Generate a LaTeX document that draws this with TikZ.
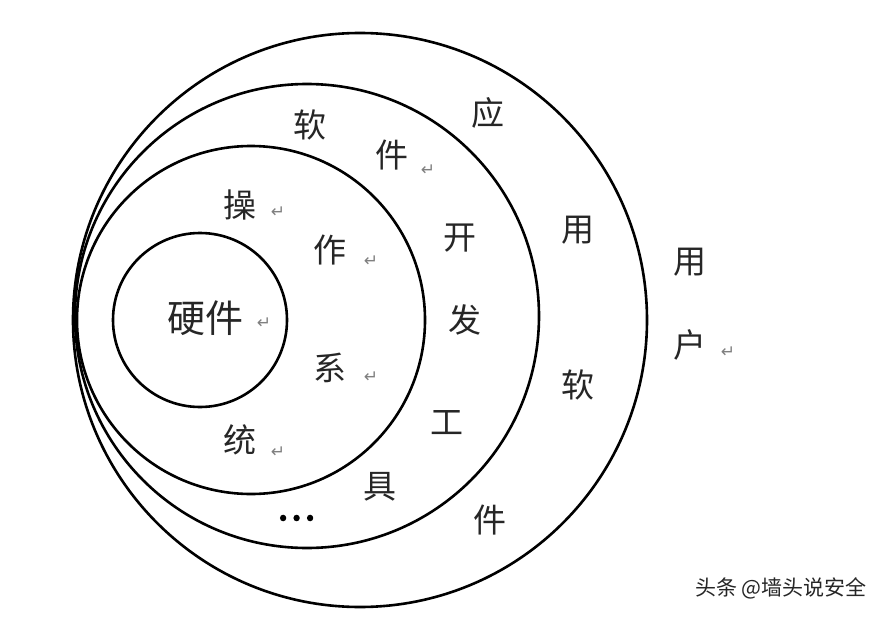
\documentclass[tikz,border=0pt]{standalone}
\usepackage{fontspec}
\newfontfamily\cjk{Noto Sans CJK SC}
\newfontfamily\cjkb[FakeBold=4]{Noto Sans CJK SC}
\newfontfamily\sym{DejaVu Sans}
\begin{document}
\begin{tikzpicture}[x=1pt,y=-1pt,
  ring/.style={draw=black,line width=2.6pt},
  ch/.style={inner sep=0pt,font=\cjk\fontsize{33}{33}\selectfont,text=black!85},
  mk/.style={inner sep=0pt,font=\sym\fontsize{17}{17}\selectfont,text=black!50},
  wm/.style={inner sep=0pt,font=\cjk\fontsize{21}{21}\selectfont,text=black!85}]
\useasboundingbox (0,0) rectangle (892,618);
\fill[white] (0,0) rectangle (892,618);
% rings
\draw[ring] (360,320) circle[radius=287] node[coordinate](cApp){};
\draw[ring] (307,316) circle[radius=232] node[coordinate](cDev){};
\draw[ring] (251,320) circle[radius=174] node[coordinate](cOS){};
\draw[ring] (200,320) circle[radius=87] node[coordinate](cHW){};
% hardware
\node[ch,font=\cjk\fontsize{38}{38}\selectfont] (hw) at (205,318) {硬件};
\node[mk] (hwm) at (264,323) {↵};
% operating system
\node[ch] (os1) at (240,205) {操};
\node[mk] (os1m) at (278,212) {↵};
\node[ch] (os2) at (330,250) {作};
\node[mk] (os2m) at (371,261) {↵};
\node[ch] (os3) at (330,368) {系};
\node[mk] (os3m) at (371,377) {↵};
\node[ch] (os4) at (240,440) {统};
\node[mk] (os4m) at (278,452) {↵};
% development tools
\node[ch] (d1) at (310,125) {软};
\node[ch] (d2) at (392,155) {件};
\node[mk] (d2m) at (428,170) {↵};
\node[ch] (d3) at (460,238) {开};
\node[ch] (d4) at (465,320) {发};
\node[ch] (d5) at (447,423) {工};
\node[ch] (d6) at (380,487) {具};
\node[inner sep=0pt,font=\cjkb\fontsize{36}{36}\selectfont,text=black] (d7) at (296,518) {…};
% application software
\node[ch] (a1) at (488,113) {应};
\node[ch] (a2) at (578,230) {用};
\node[ch] (a3) at (578,385) {软};
\node[ch] (a4) at (490,520) {件};
% user
\node[ch] (u1) at (690,262) {用};
\node[ch] (u2) at (690,345) {户};
\node[mk] (u2m) at (728,352) {↵};
% watermark
\node[wm] (w) at (781,588) {头条 @墙头说安全};
\end{tikzpicture}
\end{document}
